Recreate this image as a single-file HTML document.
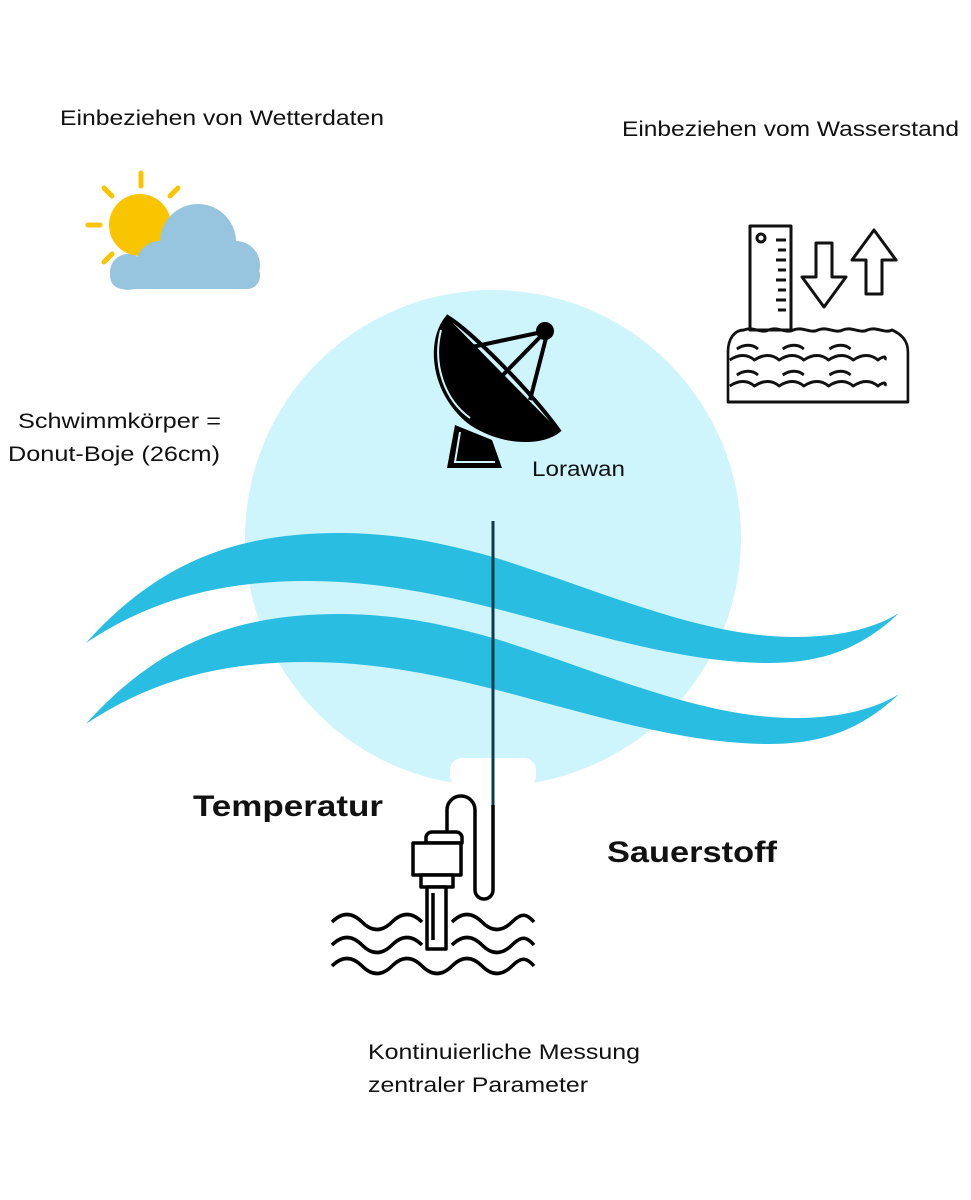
<!DOCTYPE html>
<html><head><meta charset="utf-8"><style>
body{margin:0;background:#fff;}
svg{display:block}
text{font-family:"Liberation Sans",sans-serif;fill:#111}
</style></head><body>
<svg width="971" height="1200" viewBox="0 0 971 1200" xmlns="http://www.w3.org/2000/svg">
<rect width="971" height="1200" fill="#fff"/>
<circle cx="493" cy="538" r="248" fill="#cff5fc"/>
<rect x="450" y="758" width="86" height="30" rx="12" fill="#fff"/>
<g fill="#29bde2">
<path d="M86,643 C160,560 240,533 339,533 C400,533 450,545 493,557 C600,590 700,637 794,637 C840,637 875,628 899,613 C860,650 820,663 768,663 C680,663 580,630 493,608 C430,592 370,581 307,581 C220,581 150,600 86,643 Z"/>
<path transform="translate(0,81)" d="M86,643 C160,560 240,533 339,533 C400,533 450,545 493,557 C600,590 700,637 794,637 C840,637 875,628 899,613 C860,650 820,663 768,663 C680,663 580,630 493,608 C430,592 370,581 307,581 C220,581 150,600 86,643 Z"/>
</g>
<line x1="493" y1="521" x2="493" y2="805" stroke="#0d3b4a" stroke-width="3"/>
<!-- sun cloud -->
<g stroke="#f9c400" stroke-width="5" stroke-linecap="round">
<line x1="141" y1="173" x2="141" y2="186"/><line x1="104" y1="188" x2="112" y2="196"/><line x1="178" y1="188" x2="170" y2="196"/>
<line x1="88" y1="225" x2="100" y2="225"/><line x1="104" y1="262" x2="112" y2="254"/>
</g>
<circle cx="140" cy="225" r="31" fill="#f9c400"/>
<g fill="#97c4df">
<circle cx="198" cy="242" r="38"/><circle cx="160" cy="265" r="24"/><circle cx="236" cy="265" r="24"/><circle cx="128" cy="272" r="18"/>
<rect x="110" y="262" width="150" height="27" rx="13"/>
</g>
<!-- water level icon -->
<g fill="none" stroke="#111" stroke-width="3" stroke-linejoin="round">
<rect x="750" y="226" width="41" height="104"/>
<circle cx="761" cy="238" r="4"/>
<path d="M786,240h-10M786,250h-8M786,260h-10M786,270h-8M786,280h-10M786,290h-8M786,300h-10M786,310h-8"/>
<path d="M816,243h16v34h14l-22,30l-22,-30h14z"/>
<path d="M874,230l22,30h-14v34h-16v-34h-14z"/>
<g transform="translate(728,0) scale(0.882,1) translate(-728,0)">
<path d="M728,402v-50c0,-14 8,-22 18,-22c10,-4 20,4 28,0c10,-4 20,4 28,0c10,-4 20,4 28,0c10,-4 20,4 28,0c10,-4 20,4 28,0c10,-4 20,4 28,0c10,4 18,10 18,22v50z"/>
<path d="M730,360c10,-6 20,-6 28,0c10,-6 20,-6 28,0c10,-6 20,-6 28,0c10,-6 20,-6 28,0c10,-6 20,-6 28,0c10,-6 20,-6 28,0c6,-4 10,-4 8,0"/>
<path d="M730,386c10,-6 20,-6 28,0c10,-6 20,-6 28,0c10,-6 20,-6 28,0c10,-6 20,-6 28,0c10,-6 20,-6 28,0c10,-6 20,-6 28,0c6,-4 10,-4 8,0"/>
<path d="M738,349c8,-5 18,-5 24,0M790,349c8,-5 18,-5 24,0M843,349c8,-5 18,-5 24,0M738,375c8,-5 18,-5 24,0M790,375c8,-5 18,-5 24,0M843,375c8,-5 18,-5 24,0"/>
</g>
</g>
<!-- dish -->
<g>
<path d="M446,316 C425,340 430,395 470,425 C505,448 545,445 560,432 Z" fill="#000"/>
<path d="M446,316 C470,330 530,390 560,432" stroke="#000" stroke-width="4" fill="none"/>
<path d="M441,330 C432,365 445,400 470,418" stroke="#cff5fc" stroke-width="2" fill="none"/>
<path d="M455,425 L447,468 L502,468 L492,440 Z" fill="#000"/>
<path d="M460,432 L455,462 L495,462" stroke="#cff5fc" stroke-width="2" fill="none"/>
<g stroke="#000" stroke-width="4"><line x1="472" y1="347" x2="542" y2="332"/><line x1="498" y1="380" x2="542" y2="335"/><line x1="530" y1="400" x2="546" y2="338"/></g>
<circle cx="545" cy="331" r="9" fill="#000"/>
</g>
<!-- sensor -->
<g fill="none" stroke="#000" stroke-width="3.5" stroke-linejoin="round">
<path d="M493,805 V890 a9,9 0 0 1 -18,0 V810 a14,14 0 0 0 -28,0 V832"/>
<path d="M426,843 v-6 a6,6 0 0 1 6,-5 h24 a6,6 0 0 1 6,5 v6 z" fill="#fff"/>
<rect x="413" y="843" width="48" height="32" fill="#fff"/>
<rect x="421" y="875" width="32" height="12" fill="#fff"/>
<path d="M332,922c10,-10 20,-10 30,0s20,10 30,0s20,-10 30,0M452,922c10,-10 20,-10 30,0s20,10 30,0s15,-8 22,0"/>
<path d="M332,945c10,-10 20,-10 30,0s20,10 30,0s20,-10 30,0M452,945c10,-10 20,-10 30,0s20,10 30,0s15,-8 22,0"/>
<path d="M332,966c10,-10 20,-10 30,0s20,10 30,0s20,-10 30,0s20,10 30,0s20,-10 30,0s20,10 30,0s15,-8 22,0"/>
<rect x="427" y="887" width="19" height="62" fill="#fff"/>
<line x1="433" y1="893" x2="433" y2="940"/>
</g>
<text x="60" y="125" font-size="21" textLength="324" lengthAdjust="spacingAndGlyphs">Einbeziehen von Wetterdaten</text>
<text x="622" y="136" font-size="21" textLength="337" lengthAdjust="spacingAndGlyphs">Einbeziehen vom Wasserstand</text>
<text x="18" y="428" font-size="21" textLength="203" lengthAdjust="spacingAndGlyphs">Schwimmkörper =</text>
<text x="8" y="461" font-size="21" textLength="212" lengthAdjust="spacingAndGlyphs">Donut-Boje (26cm)</text>
<text x="532" y="476" font-size="21" textLength="93" lengthAdjust="spacingAndGlyphs">Lorawan</text>
<text x="193" y="816" font-size="30" font-weight="bold" textLength="190" lengthAdjust="spacingAndGlyphs">Temperatur</text>
<text x="607" y="862" font-size="30" font-weight="bold" textLength="170" lengthAdjust="spacingAndGlyphs">Sauerstoff</text>
<text x="368" y="1059" font-size="21" textLength="272" lengthAdjust="spacingAndGlyphs">Kontinuierliche Messung</text>
<text x="368" y="1092" font-size="21" textLength="220" lengthAdjust="spacingAndGlyphs">zentraler Parameter</text>
</svg>
</body></html>
